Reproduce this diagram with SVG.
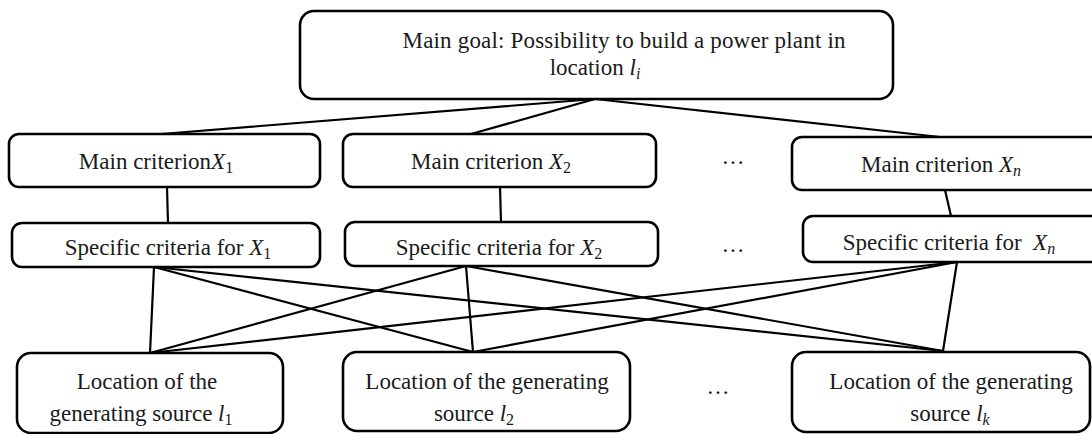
<svg xmlns="http://www.w3.org/2000/svg" width="1092" height="434" viewBox="0 0 1092 434">
<style>
.box{fill:#fff;stroke:#000;stroke-width:2.6}
.t{font-family:"Liberation Serif","Times New Roman",serif;font-size:23px;fill:#1a1a1a;text-anchor:middle}
.i{font-style:italic}
.s{font-size:16px}
.c line{stroke:#000;stroke-width:2.2;stroke-linecap:round}
</style>
<rect width="1092" height="434" fill="#fff"/>
<g class="c" id="connectors">
<line x1="595" y1="99" x2="161" y2="134"/>
<line x1="595" y1="99" x2="471" y2="134"/>
<line x1="595" y1="99" x2="940" y2="137"/>
<line x1="167" y1="187" x2="168" y2="223"/>
<line x1="500" y1="187" x2="501" y2="222"/>
<line x1="945" y1="190" x2="951" y2="216"/>
<line x1="154" y1="267" x2="150" y2="353"/>
<line x1="154" y1="267" x2="473" y2="352"/>
<line x1="154" y1="267" x2="943" y2="351"/>
<line x1="466" y1="266" x2="150" y2="353"/>
<line x1="466" y1="266" x2="473" y2="352"/>
<line x1="466" y1="266" x2="943" y2="351"/>
<line x1="957" y1="262" x2="150" y2="353"/>
<line x1="957" y1="262" x2="473" y2="352"/>
<line x1="957" y1="262" x2="943" y2="351"/>
</g>
<g id="goal">
<rect class="box" x="300" y="11" width="593" height="88" rx="14"/>
<text class="t" x="624" y="48" textLength="443">Main goal: Possibility to build a power plant in</text>
<text class="t" x="595" y="75">location <tspan class="i">l</tspan><tspan class="s i" dy="4">i</tspan></text>
</g>
<g id="main1">
<rect class="box" x="9" y="134" width="311" height="53" rx="10"/>
<text class="t" x="156" y="169">Main criterion<tspan class="i">X</tspan><tspan class="s" dy="4">1</tspan></text>
</g>
<g id="main2">
<rect class="box" x="343" y="134" width="313" height="53" rx="10"/>
<text class="t" x="491" y="169">Main criterion <tspan class="i">X</tspan><tspan class="s" dy="4">2</tspan></text>
</g>
<g id="mainn">
<rect class="box" x="792" y="137" width="310" height="53" rx="10"/>
<text class="t" x="941" y="172">Main criterion <tspan class="i">X</tspan><tspan class="s i" dy="4">n</tspan></text>
</g>
<g id="spec1">
<rect class="box" x="12" y="223" width="308" height="44" rx="10"/>
<text class="t" x="168" y="255">Specific criteria for <tspan class="i">X</tspan><tspan class="s" dy="4">1</tspan></text>
</g>
<g id="spec2">
<rect class="box" x="345" y="222" width="313" height="44" rx="10"/>
<text class="t" x="499" y="255">Specific criteria for <tspan class="i">X</tspan><tspan class="s" dy="4">2</tspan></text>
</g>
<g id="specn">
<rect class="box" x="803" y="216" width="300" height="46" rx="10"/>
<text class="t" x="949" y="250" xml:space="preserve">Specific criteria for  <tspan class="i">X</tspan><tspan class="s i" dy="4">n</tspan></text>
</g>
<g id="loc1">
<rect class="box" x="17" y="353" width="266" height="80" rx="14"/>
<text class="t" x="147" y="389">Location of the</text>
<text class="t" x="141" y="421">generating source <tspan class="i">l</tspan><tspan class="s" dy="4">1</tspan></text>
</g>
<g id="loc2">
<rect class="box" x="343" y="352" width="287" height="79" rx="14"/>
<text class="t" x="487" y="389">Location of the generating</text>
<text class="t" x="474" y="421">source <tspan class="i">l</tspan><tspan class="s" dy="4">2</tspan></text>
</g>
<g id="lock">
<rect class="box" x="792" y="352" width="298" height="80" rx="14"/>
<text class="t" x="951" y="389">Location of the generating</text>
<text class="t" x="950" y="421">source <tspan class="i">l</tspan><tspan class="s i" dy="4">k</tspan></text>
</g>
<g id="dots">
<text class="t" x="733" y="164">…</text>
<text class="t" x="733" y="252">…</text>
<text class="t" x="718" y="394">…</text>
</g>
</svg>
